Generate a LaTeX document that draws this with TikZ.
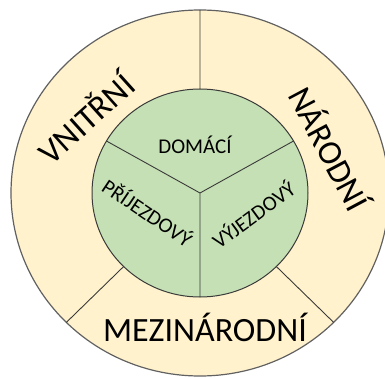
\documentclass[tikz,border=0pt]{standalone}
\usepackage{fontspec}
\setmainfont{Carlito}
\usetikzlibrary{positioning,calc}
\definecolor{RingColor}{HTML}{FFF2CC}
\definecolor{CoreColor}{HTML}{C5E0B4}
\definecolor{EdgeColor}{HTML}{3A3A3A}

\begin{document}
\begin{tikzpicture}[
      x=1pt, y=1pt,
      ring/.style = {fill=RingColor, draw=EdgeColor!80, line width=1.2pt},
      core/.style = {fill=CoreColor, draw=EdgeColor, line width=1pt},
      divider/.style = {draw=EdgeColor, line width=0.9pt},
      outerlabel/.style = {font=\fontsize{34}{34}\selectfont, inner sep=0pt},
      innerlabel/.style = {font=\fontsize{21}{21}\selectfont, inner sep=0pt},
  ]
  \useasboundingbox (0,0) rectangle (385,378);
  \coordinate (c) at (200,185);
  % ┌──────────────┐
  % │ Aussenring   │
  % └──────────────┘
  \path[ring] (c) ellipse [x radius=189, y radius=183];
  \coordinate (ringtop)   at ($(c)+(90:189 and 183)$);
  \coordinate (ringleft)  at ($(c)+(225:189 and 183)$);
  \coordinate (ringright) at ($(c)+(315:189 and 183)$);
  \coordinate (coretop)   at ($(c)+(90:108 and 104)$);
  \coordinate (coreleft)  at ($(c)+(225:108 and 104)$);
  \coordinate (coreright) at ($(c)+(315:108 and 104)$);
  \draw[divider] (coretop) -- (ringtop)
                 (coreleft) -- (ringleft)
                 (coreright) -- (ringright);
  % ┌──────────────┐
  % │ Kern         │
  % └──────────────┘
  \path[core] (c) ellipse [x radius=108, y radius=104];
  \coordinate (spokeleft)   at ($(c)+(150:108 and 104)$);
  \coordinate (spokeright)  at ($(c)+(30:108 and 104)$);
  \coordinate (spokebottom) at ($(c)+(270:108 and 104)$);
  \draw[divider] (c) -- (spokeleft)
                 (c) -- (spokeright)
                 (c) -- (spokebottom);
  % ┌──────────────┐
  % │ Beschriftung │
  % └──────────────┘
  \node[outerlabel, rotate=42]  (vnitrni) at (85,261) {VNITŘNÍ};
  \node[outerlabel, rotate=-62] (narodni) at (331,230) {NÁRODNÍ};
  \node[outerlabel]             (mezinarodni) at (205,51) {MEZINÁRODNÍ};
  \node[innerlabel]             (domaci) at (195,233) {DOMÁCÍ};
  \node[innerlabel, rotate=-34] (prijezdovy) at (148,166) {PŘÍJEZDOVÝ};
  \node[innerlabel, rotate=36]  (vyjezdovy) at (253,164) {VÝJEZDOVÝ};
\end{tikzpicture}
\end{document}
